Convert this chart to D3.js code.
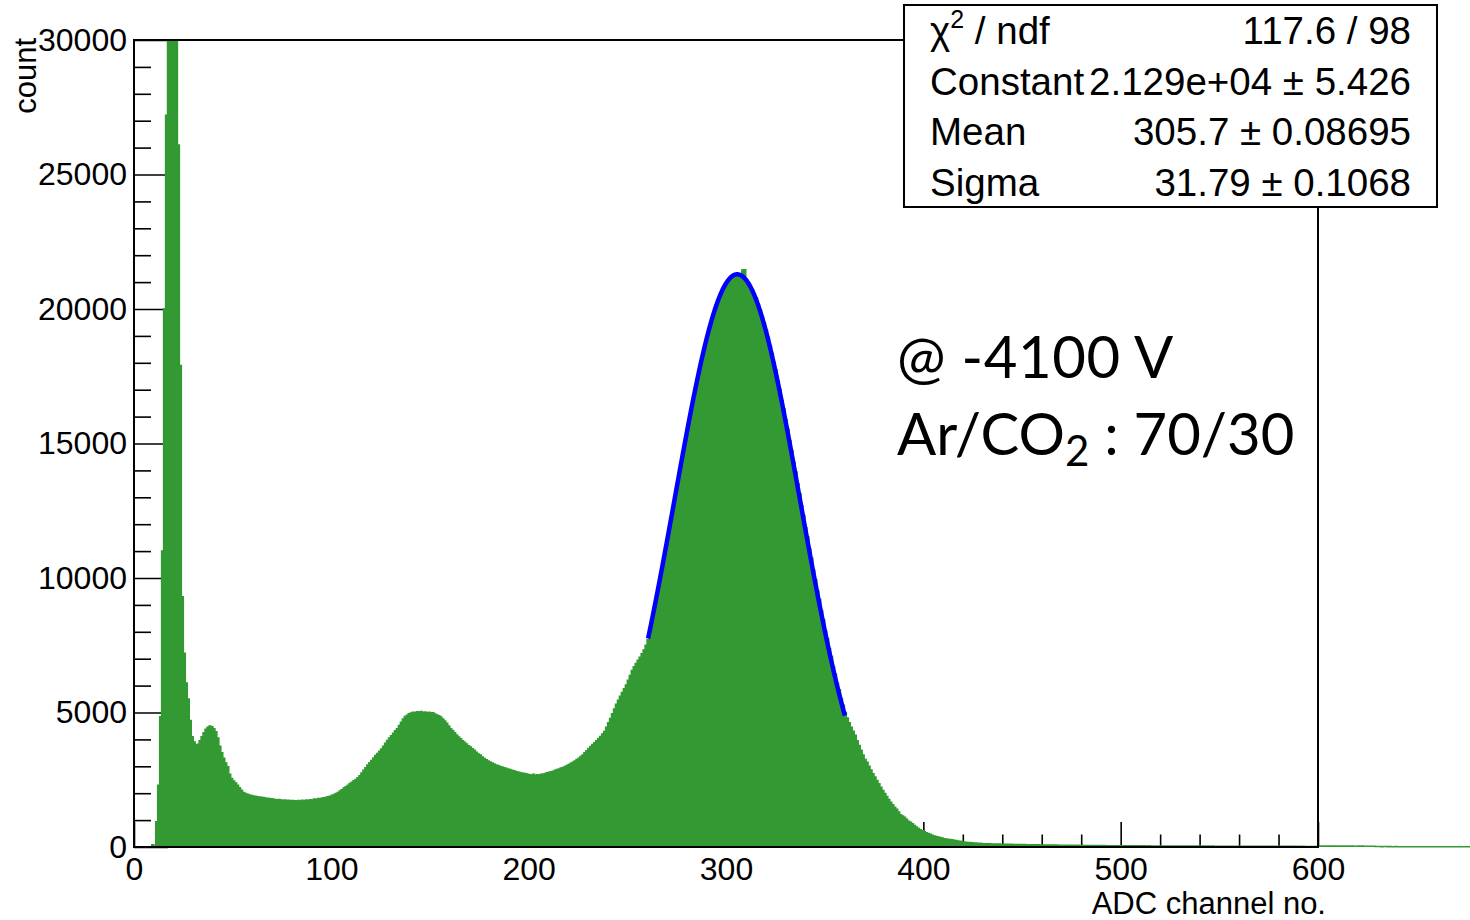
<!DOCTYPE html>
<html>
<head>
<meta charset="utf-8">
<script src="https://cdn.jsdelivr.net/npm/d3@7"></script>
<style>
  html, body { margin: 0; padding: 0; background: #ffffff; }
  svg { display: block; }
</style>
</head>
<body>
<svg id="chart" width="1470" height="920"></svg>
<script>
// ---- histogram contents: counts per ADC channel (1 channel per bin) ----
// channels 0-49: threshold edge, noise spike and the shoulder after it
const countsCh000 = [
  0, 0, 0, 0, 0, 0, 0, 0, 0, 80,
  40, 940, 2300, 4840, 11000, 20000, 27200, 34000, 39000, 42000,
  38000, 33000, 26100, 17900, 9300, 7200, 6100, 5500, 4700, 4100,
  3900, 3800, 3820, 3950, 4100, 4250, 4380, 4450, 4500, 4470,
  4400, 4280, 4050, 3750, 3500, 3300, 3120, 2980, 2700, 2550
];
// channels 50-99: flat valley
const countsCh050 = [
  2450, 2380, 2300, 2200, 2110, 2030, 1990, 1960, 1930, 1910,
  1900, 1890, 1870, 1860, 1850, 1840, 1820, 1810, 1800, 1790,
  1780, 1770, 1760, 1770, 1750, 1740, 1750, 1730, 1740, 1720,
  1730, 1720, 1710, 1730, 1710, 1740, 1720, 1750, 1730, 1760,
  1750, 1780, 1770, 1800, 1790, 1820, 1830, 1850, 1870, 1890
];
// channels 100-149: rise of the escape peak
const countsCh100 = [
  1920, 1950, 1990, 2030, 2080, 2130, 2190, 2240, 2300, 2360,
  2410, 2460, 2510, 2570, 2650, 2750, 2850, 2950, 3050, 3130,
  3220, 3310, 3400, 3480, 3560, 3640, 3750, 3860, 3960, 4050,
  4140, 4230, 4320, 4400, 4520, 4640, 4760, 4850, 4900, 4950,
  4980, 5010, 4990, 5030, 5010, 5040, 5000, 5020, 4990, 5010
];
// channels 150-199: fall of the escape peak
const countsCh150 = [
  4980, 4990, 4940, 4910, 4880, 4830, 4760, 4680, 4600, 4500,
  4400, 4330, 4250, 4160, 4090, 4020, 3950, 3890, 3830, 3760,
  3720, 3650, 3600, 3520, 3460, 3420, 3350, 3290, 3240, 3200,
  3160, 3120, 3090, 3050, 3030, 2990, 2970, 2950, 2930, 2900,
  2880, 2850, 2830, 2810, 2790, 2770, 2750, 2740, 2720, 2700
];
// channels 200-259: second valley and the lower flank of the main peak
const countsCh200 = [
  2690, 2680, 2700, 2660, 2690, 2680, 2700, 2710, 2730, 2760,
  2780, 2800, 2820, 2850, 2880, 2900, 2940, 2960, 2990, 3030,
  3070, 3110, 3150, 3200, 3250, 3300, 3360, 3420, 3500, 3580,
  3660, 3740, 3810, 3880, 3950, 4030, 4110, 4200, 4290, 4450,
  4620, 4780, 4950, 5130, 5310, 5460, 5600, 5740, 5880, 6020,
  6200, 6380, 6560, 6700, 6820, 6940, 7050, 7180, 7320, 7500
];
// channels 260-319: main photopeak, rising side and top
const countsCh260 = [
  7700, 7970, 8290, 8660, 9010, 9400, 9750, 10170, 10530, 10960,
  11320, 11750, 12130, 12560, 12940, 13380, 13750, 14180, 14550, 14980,
  15340, 15750, 16100, 16500, 16840, 17240, 17540, 17900, 18200, 18550,
  18840, 19130, 19360, 19640, 19860, 20140, 20280, 20480, 20610, 20810,
  20940, 21040, 21080, 21180, 21210, 21300, 21240, 21230, 21450, 21460,
  21090, 20980, 20810, 20700, 20530, 20410, 20160, 19960, 19700, 19490
];
// channels 320-379: main photopeak, falling side
const countsCh320 = [
  19230, 18950, 18620, 18340, 18010, 17730, 17330, 17010, 16600, 16280,
  15880, 15520, 15090, 14730, 14300, 13940, 13500, 13130, 12690, 12320,
  11870, 11520, 11080, 10730, 10290, 9940, 9530, 9200, 8780, 8450,
  8040, 7750, 7380, 7080, 6710, 6420, 6090, 5850, 5520, 5270,
  5000, 4800, 4620, 4450, 4300, 4150, 3950, 3770, 3600, 3420,
  3250, 3150, 3000, 2860, 2720, 2600, 2470, 2350, 2220, 2100
];
// channels 380-439: upper tail
const countsCh380 = [
  1990, 1880, 1770, 1660, 1570, 1480, 1400, 1300, 1200, 1150,
  1110, 1030, 960, 920, 860, 800, 740, 690, 640, 600,
  570, 530, 500, 470, 440, 410, 390, 370, 350, 330,
  310, 300, 285, 275, 265, 255, 240, 225, 210, 200,
  190, 180, 170, 165, 160, 150, 145, 140, 135, 130,
  125, 122, 118, 120, 114, 112, 115, 108, 110, 106
];
// channels 440-679: almost empty high end
const countsCh440 = [
  104, 100, 102, 97, 99, 95, 96, 92, 93, 90, 88, 89, 86, 85, 86, 83, 82, 80, 81, 78,
  77, 76, 74, 75, 72, 71, 70, 71, 68, 67, 66, 67, 64, 63, 64, 62, 61, 60, 61, 59,
  58, 57, 58, 56, 55, 56, 54, 53, 54, 52, 51, 52, 50, 51, 49, 50, 48, 49, 47, 48,
  47, 46, 47, 45, 46, 44, 45, 44, 43, 44, 42, 43, 42, 41, 42, 40, 41, 40, 39, 40,
  39, 38, 39, 38, 37, 38, 37, 36, 37, 36, 35, 36, 35, 36, 34, 35, 34, 35, 33, 34,
  33, 34, 33, 32, 33, 32, 33, 31, 32, 31, 32, 31, 30, 31, 30, 31, 30, 29, 30, 29,
  30, 29, 28, 29, 28, 29, 28, 27, 28, 27, 28, 27, 26, 27, 26, 27, 26, 25, 26, 25,
  26, 25, 26, 25, 24, 25, 24, 25, 24, 23, 24, 23, 24, 23, 22, 23, 22, 23, 22, 21,
  34, 36, 33, 35, 32, 34, 36, 33, 35, 32, 34, 31, 33, 35, 32, 34, 31, 33, 30, 32,
  34, 31, 33, 30, 32, 29, 31, 30, 28, 15, 14, 15, 13, 14, 15, 13, 14, 12, 13, 14,
  12, 13, 11, 12, 13, 11, 12, 13, 11, 12, 10, 11, 12, 10, 11, 12, 10, 11, 9, 10,
  11, 9, 10, 11, 9, 10, 9, 10, 8, 9, 10, 8, 9, 8, 9, 10, 8, 9, 8, 9
];

// axis ticks
const xMajorTicks = [0, 100, 200, 300, 400, 500, 600];
const yMajorTicks = [0, 5000, 10000, 15000, 20000, 25000, 30000];

// gaussian fit result (as printed in the statistics box)
const fitConstant = 21290;
const fitMean = 305.7;
const fitSigma = 31.79;
const fitRange = [260.5, 360.3];

// statistics box rows
const statNames = ["χ", "Constant", "Mean", "Sigma"];
const statValues = ["117.6 / 98", "2.129e+04 ± 5.426", "305.7 ± 0.08695", "31.79 ± 0.1068"];

// ---- drawing ----
const counts = [].concat(countsCh000, countsCh050, countsCh100, countsCh150,
  countsCh200, countsCh260, countsCh320, countsCh380, countsCh440);

const W = 1470, H = 920;
const frame = { left: 134, right: 1318, top: 40, bottom: 847 };
const green = "#339933";
const font = "'Liberation Sans', Arial, Helvetica, sans-serif";

const svg = d3.select("#chart");
svg.append("rect").attr("width", W).attr("height", H).attr("fill", "#ffffff");

const x = d3.scaleLinear().domain([0, 600]).range([frame.left, frame.right]);
const y = d3.scaleLinear().domain([0, 30000]).range([frame.bottom, frame.top]);

const xMinorTicks = d3.range(0, 601, 20).filter(v => v % 100 !== 0);
const yMinorTicks = d3.range(0, 30001, 1000).filter(v => v % 5000 !== 0);

function styleAxis(g) {
  g.select(".domain").remove();
  g.selectAll(".tick line").attr("stroke", "#000").attr("stroke-width", 1.6);
  g.selectAll(".tick text").attr("fill", "#000");
  g.attr("font-family", font).attr("font-size", 32);
}

// minor ticks (drawn first so the histogram covers them)
svg.append("g")
  .attr("transform", `translate(0,${frame.bottom})`)
  .call(d3.axisBottom(x).tickValues(xMinorTicks).tickSize(-12.5).tickFormat(""))
  .call(styleAxis);
svg.append("g")
  .attr("transform", `translate(${frame.left},0)`)
  .call(d3.axisLeft(y).tickValues(yMinorTicks).tickSize(-17).tickFormat(""))
  .call(styleAxis);

// major ticks with labels
svg.append("g")
  .attr("transform", `translate(0,${frame.bottom})`)
  .call(d3.axisBottom(x).tickValues(xMajorTicks).tickSize(-25).tickPadding(10).tickFormat(d3.format("d")))
  .call(styleAxis);
svg.append("g")
  .attr("transform", `translate(${frame.left},0)`)
  .call(d3.axisLeft(y).tickValues(yMajorTicks).tickSize(-34).tickPadding(7).tickFormat(d3.format("d")))
  .call(styleAxis);

// histogram (clipped at the top of the frame)
svg.append("clipPath").attr("id", "histClip")
  .append("rect")
  .attr("x", 0).attr("y", frame.top)
  .attr("width", W).attr("height", H - frame.top);

const histPoints = counts.map((c, i) => [i, c]);
histPoints.push([counts.length, counts[counts.length - 1]]);

const histArea = d3.area()
  .curve(d3.curveStepAfter)
  .x(d => x(d[0]))
  .y0(y(0))
  .y1(d => y(d[1]));
const histLine = d3.line()
  .curve(d3.curveStepAfter)
  .x(d => x(d[0]))
  .y(d => y(d[1]));

const histG = svg.append("g").attr("clip-path", "url(#histClip)");
histG.append("path").datum(histPoints)
  .attr("d", histArea).attr("fill", green);
histG.append("path").datum(histPoints)
  .attr("d", histLine).attr("fill", "none")
  .attr("stroke", green).attr("stroke-width", 1.5);

// frame
svg.append("rect")
  .attr("x", frame.left).attr("y", frame.top)
  .attr("width", frame.right - frame.left)
  .attr("height", frame.bottom - frame.top)
  .attr("fill", "none").attr("stroke", "#000").attr("stroke-width", 2);

// gaussian fit curve
const gauss = v => fitConstant * Math.exp(-0.5 * Math.pow((v - fitMean) / fitSigma, 2));
const fitPts = d3.range(fitRange[0], fitRange[1] + 0.001, 0.25).map(v => [v, gauss(v)]);
svg.append("path").datum(fitPts)
  .attr("d", d3.line().x(d => x(d[0])).y(d => y(d[1])))
  .attr("fill", "none").attr("stroke", "#0000ff").attr("stroke-width", 4.5)
  .attr("stroke-linejoin", "round");

// axis titles
svg.append("text")
  .attr("x", 1326).attr("y", 914)
  .attr("text-anchor", "end")
  .attr("font-family", font).attr("font-size", 31)
  .text("ADC channel no.");
svg.append("text")
  .attr("transform", "translate(36,38) rotate(-90)")
  .attr("text-anchor", "end")
  .attr("font-family", font).attr("font-size", 31)
  .text("count");

// statistics box
const box = { x: 904, y: 5, w: 533, h: 202 };
svg.append("rect")
  .attr("x", box.x).attr("y", box.y).attr("width", box.w).attr("height", box.h)
  .attr("fill", "#ffffff").attr("stroke", "#000").attr("stroke-width", 2);
const rowH = box.h / statNames.length;
statNames.forEach((name, i) => {
  const base = box.y + rowH * (i + 0.5) + 14;
  const t = svg.append("text")
    .attr("x", 930).attr("y", base)
    .attr("font-family", font).attr("font-size", 38.5);
  if (i === 0) {
    t.append("tspan").text(name);
    t.append("tspan").attr("dy", -16).attr("font-size", 25).text("2");
    t.append("tspan").attr("dy", 16).text(" / ndf");
  } else {
    t.text(name);
  }
  svg.append("text")
    .attr("x", 1411).attr("y", base)
    .attr("text-anchor", "end")
    .attr("font-family", font).attr("font-size", 38.5)
    .text(statValues[i]);
});

// run conditions
const noteFont = "Lato, 'Open Sans', sans-serif";
svg.append("text")
  .attr("x", 897).attr("y", 378)
  .attr("font-family", noteFont).attr("font-size", 58)
  .attr("letter-spacing", 0.6)
  .text("@ -4100 V");
const note2 = svg.append("text")
  .attr("x", 897).attr("y", 455)
  .attr("font-family", noteFont).attr("font-size", 58);
note2.append("tspan").text("Ar/CO");
note2.append("tspan").attr("dy", 11).attr("font-size", 42).text("2");
note2.append("tspan").attr("dy", -11).text(" : 70/30");
</script>
</body>
</html>
